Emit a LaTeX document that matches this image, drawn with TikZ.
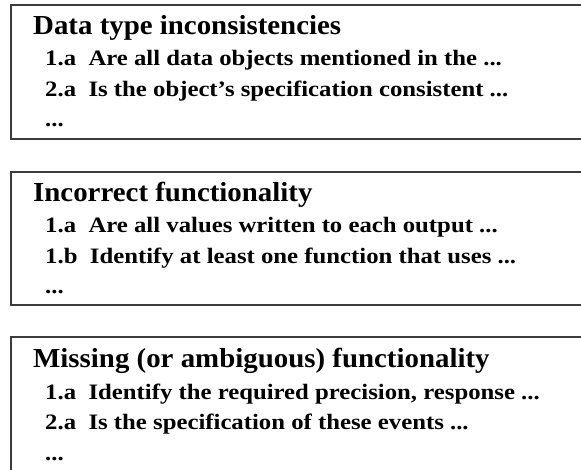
\documentclass[tikz,border=0pt]{standalone}
\usepackage{fontspec}
\setmainfont{Liberation Serif}
\usepackage{graphicx}
\definecolor{frame}{HTML}{3C3C3C}
\begin{document}
\begin{tikzpicture}[x=1pt,y=-1pt,
  panel/.style={draw=frame,line width=1.6pt},
  heading/.style={anchor=base west,inner sep=0pt,font=\bfseries\fontsize{27.5}{27.5}\selectfont},
  entry/.style={anchor=base west,inner sep=0pt,font=\bfseries\fontsize{22}{22}\selectfont}]
\newcommand{\headtext}[1]{\scalebox{1.05}[1]{#1}}
\newcommand{\entrytext}[2]{\scalebox{1.125}[1]{#1\hspace{0.5em}#2}}
\useasboundingbox[fill=white] (0,0) rectangle (581,470);
\clip (0,0) rectangle (581,470);

% three framed panels, running off the right edge
\draw[panel] (11,5) rectangle (600,139);
\draw[panel] (11,172) rectangle (600,305);
\draw[panel] (11,337) rectangle (600,500);

% panel 1
\node[heading] (t1) at (33,35) {\headtext{Data type inconsistencies}};
\node[entry] (a1) at (45,66) {\entrytext{1.a}{Are all data objects mentioned in the ...}};
\node[entry] (a2) at (45,97) {\entrytext{2.a}{Is the object’s specification consistent ...}};
\node[entry] (a3) at (45,127) {\scalebox{1.125}[1]{...}};

% panel 2
\node[heading] (t2) at (33,202) {\headtext{Incorrect functionality}};
\node[entry] (b1) at (45,233) {\entrytext{1.a}{Are all values written to each output ...}};
\node[entry] (b2) at (45,264) {\entrytext{1.b}{Identify at least one function that uses ...}};
\node[entry] (b3) at (45,294) {\scalebox{1.125}[1]{...}};

% panel 3
\node[heading] (t3) at (33,367) {\headtext{Missing (or ambiguous) functionality}};
\node[entry] (c1) at (45,399) {\entrytext{1.a}{Identify the required precision, response ...}};
\node[entry] (c2) at (45,429) {\entrytext{2.a}{Is the specification of these events ...}};
\node[entry] (c3) at (45,460) {\scalebox{1.125}[1]{...}};
\end{tikzpicture}
\end{document}
